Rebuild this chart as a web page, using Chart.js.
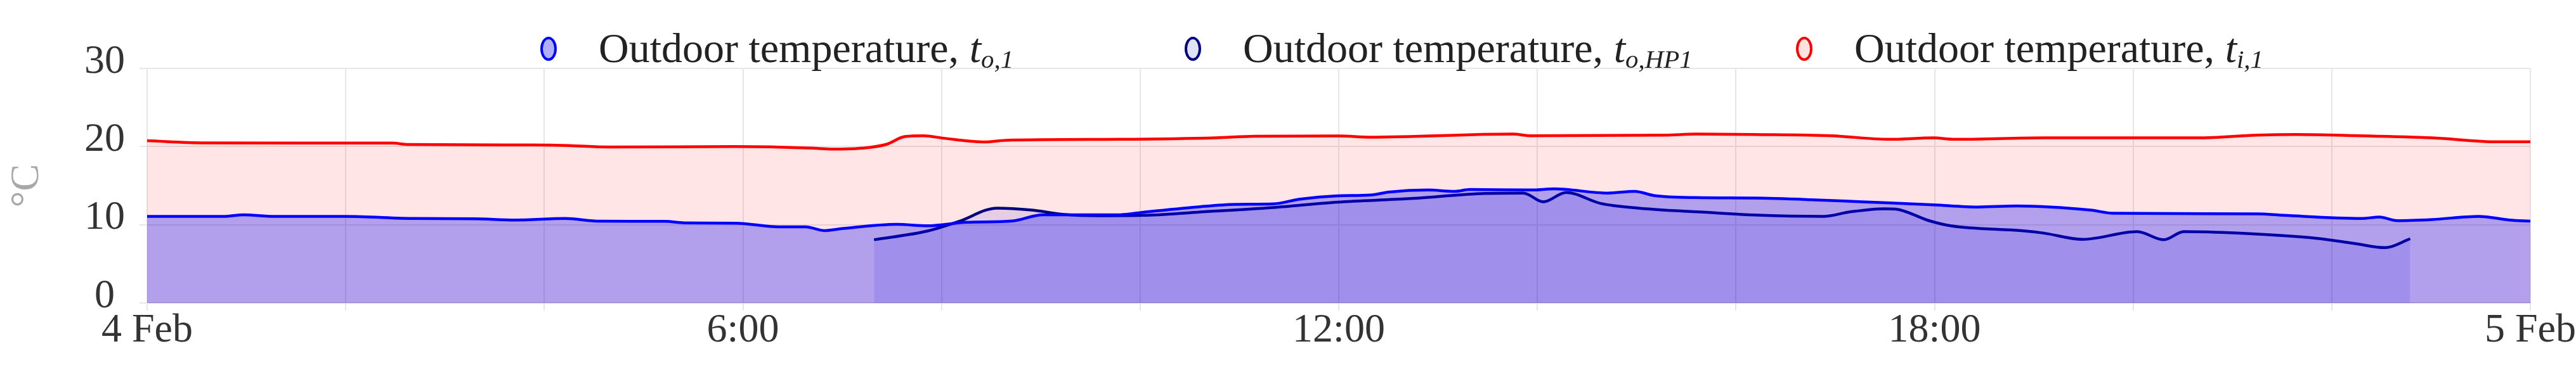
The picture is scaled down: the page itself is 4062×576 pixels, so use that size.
<!DOCTYPE html>
<html>
<head>
<meta charset="utf-8">
<script src="https://cdn.jsdelivr.net/npm/chart.js@4/dist/chart.umd.min.js"></script>
<style>
  body { margin: 0; background: #fff; }
  #wrap { position: relative; width: 4062px; height: 576px; }
  .lg-dot { position: absolute; top: 58px; width: 18px; height: 30px; border: 4px solid; border-radius: 50%; }
  .lg-text { position: absolute; top: 38px; line-height: 66px; font: 66px "Liberation Serif", serif; color: #222; white-space: nowrap; }
  .lg-text sub { font-size: 0.62em; vertical-align: -0.22em; }
</style>
</head>
<body>
<div id="wrap">
  <canvas id="chart" width="4062" height="576"></canvas>
</div>
<script>
// hours after midnight of 4 Feb
const hoursTo1 = [0, 0.77, 0.97, 1.28, 2.0, 2.7, 3.29, 3.71, 4.21, 4.56, 5.22, 5.41, 5.93, 6.36, 6.63, 6.82, 7.01, 7.55, 7.86, 8.25, 8.71, 9.02, 9.8, 10.03, 10.57, 10.96, 11.34, 11.61, 11.99, 12.32, 12.51, 12.9, 13.17, 13.32, 13.94, 14.17, 14.71, 14.98, 15.18, 15.6, 16.18, 16.76, 17.27, 17.99, 18.44, 18.83, 19.57, 19.8, 21.25, 21.52, 22.3, 22.48, 22.66, 23.01, 23.48, 23.79, 24];
const tempTo1 = [11.07, 11.07, 11.28, 11.07, 11.07, 10.8, 10.77, 10.61, 10.8, 10.45, 10.43, 10.24, 10.2, 9.73, 9.73, 9.25, 9.52, 10.05, 9.87, 10.32, 10.48, 11.28, 11.28, 11.6, 12.27, 12.61, 12.67, 13.28, 13.7, 13.81, 14.19, 14.45, 14.27, 14.51, 14.45, 14.59, 14.05, 14.27, 13.73, 13.47, 13.41, 13.2, 12.93, 12.55, 12.27, 12.4, 11.87, 11.47, 11.39, 11.2, 10.8, 10.99, 10.53, 10.67, 11.07, 10.61, 10.45];

const hoursHP1 = [7.32, 7.86, 8.17, 8.56, 8.91, 9.22, 9.6, 10.03, 10.57, 11.34, 11.99, 12.7, 13.48, 13.86, 14.06, 14.29, 14.64, 15.02, 15.8, 16.18, 16.88, 17.15, 17.5, 17.61, 17.95, 18.16, 18.91, 19.1, 19.49, 20.04, 20.31, 20.51, 21.05, 21.84, 22.23, 22.54, 22.79];
const tempHP1 = [8.08, 9.2, 10.4, 12.13, 11.87, 11.33, 11.15, 11.2, 11.6, 12.21, 12.9, 13.33, 14.0, 14.05, 12.93, 14.13, 12.72, 12.13, 11.52, 11.25, 11.07, 11.65, 12.05, 12.0, 10.5, 9.87, 9.2, 8.93, 8.13, 9.12, 8.08, 9.12, 8.93, 8.27, 7.6, 7.07, 8.21];

const hoursTi1 = [0, 0.58, 1.55, 2.47, 2.63, 3.87, 4.25, 4.64, 5.93, 6.7, 6.9, 7.2, 7.44, 7.63, 7.82, 8.02, 8.44, 8.64, 9.8, 10.76, 11.15, 12.0, 12.32, 13.75, 13.94, 15.29, 15.6, 16.18, 16.96, 17.54, 17.99, 18.2, 19.1, 20.66, 21.25, 21.64, 22.23, 23.01, 23.67, 24];
const tempTi1 = [20.75, 20.48, 20.45, 20.45, 20.27, 20.2, 20.13, 19.95, 20.0, 19.8, 19.68, 19.8, 20.27, 21.28, 21.39, 21.07, 20.6, 20.8, 20.93, 21.12, 21.33, 21.36, 21.2, 21.6, 21.39, 21.47, 21.6, 21.55, 21.39, 20.93, 21.12, 20.93, 21.12, 21.12, 21.47, 21.55, 21.41, 21.12, 20.61, 20.61];

const xTickHours = [0, 6, 12, 18, 24];
const xTickLabels = ['4 Feb', '6:00', '12:00', '18:00', '5 Feb'];

const legendNames = ['Outdoor temperature, ', 'Outdoor temperature, ', 'Outdoor temperature, '];
const legendSubs = ['o,1', 'o,HP1', 'i,1'];
const legendX = [865, 1881, 2845]; // dot centres

const serif = 'Liberation Serif';

function points(xs, ys) {
    return xs.map((x, i) => ({ x: x, y: ys[i] }));
}

const datasets = [
    {
        label: 'Outdoor temperature, to,1',
        data: points(hoursTo1, tempTo1),
        borderColor: '#0000ff',
        backgroundColor: 'rgba(0, 0, 255, 0.3)',
        dotFill: 'rgb(176, 176, 250)'
    },
    {
        label: 'Outdoor temperature, to,HP1',
        data: points(hoursHP1, tempHP1),
        borderColor: '#000080',
        backgroundColor: 'rgba(0, 0, 220, 0.1)',
        dotFill: 'rgb(226, 226, 246)'
    },
    {
        label: 'Outdoor temperature, ti,1',
        data: points(hoursTi1, tempTi1),
        borderColor: '#ff0000',
        backgroundColor: 'rgba(255, 0, 0, 0.1)',
        dotFill: 'rgb(253, 226, 226)'
    }
];

datasets.forEach(ds => {
    ds.fill = 'origin';
    ds.borderWidth = 4.5;
    ds.pointRadius = 0;
    ds.cubicInterpolationMode = 'monotone';
});

const chart = new Chart(document.getElementById('chart'), {
    type: 'line',
    data: { datasets: datasets },
    options: {
        responsive: false,
        devicePixelRatio: 1,
        animation: false,
        layout: { padding: { top: 108, right: 70, bottom: 22, left: 0 } },
        plugins: {
            legend: { display: false },
            tooltip: { enabled: false }
        },
        scales: {
            x: {
                type: 'linear',
                min: 0,
                max: 24,
                grid: { color: '#e6e6e6', lineWidth: 2, tickLength: 12 },
                border: { color: '#d2d2d2', width: 2 },
                ticks: {
                    stepSize: 2,
                    autoSkip: false,
                    maxRotation: 0,
                    padding: 0,
                    color: '#333',
                    font: { family: serif, size: 64, lineHeight: 1 },
                    callback: v => {
                        const i = xTickHours.indexOf(v);
                        return i >= 0 ? xTickLabels[i] : '';
                    }
                }
            },
            y: {
                min: 0,
                max: 30,
                grid: { color: '#e6e6e6', lineWidth: 2, tickLength: 12 },
                border: { color: '#e6e6e6', width: 2 },
                ticks: {
                    stepSize: 10,
                    crossAlign: 'center',
                    padding: 23,
                    labelOffset: -10,
                    color: '#333',
                    font: { family: serif, size: 64, lineHeight: 1 }
                },
                title: {
                    display: true,
                    text: '°C',
                    color: '#a8a8a8',
                    padding: { top: 11, bottom: 35 },
                    font: { family: serif, size: 64, lineHeight: 1 }
                }
            }
        }
    }
});

// html legend, so the subscripts can be real sub elements
const $wrap = document.getElementById('wrap');
datasets.forEach((ds, i) => {
    const dot = document.createElement('span');
    dot.className = 'lg-dot';
    dot.style.left = (legendX[i] - 13) + 'px';
    dot.style.borderColor = ds.borderColor;
    dot.style.background = ds.dotFill;
    $wrap.appendChild(dot);

    const txt = document.createElement('span');
    txt.className = 'lg-text';
    txt.style.left = (legendX[i] + 79) + 'px';
    txt.innerHTML = legendNames[i] + '<i>t</i><sub><i>' + legendSubs[i] + '</i></sub>';
    $wrap.appendChild(txt);
});
</script>
</body>
</html>
